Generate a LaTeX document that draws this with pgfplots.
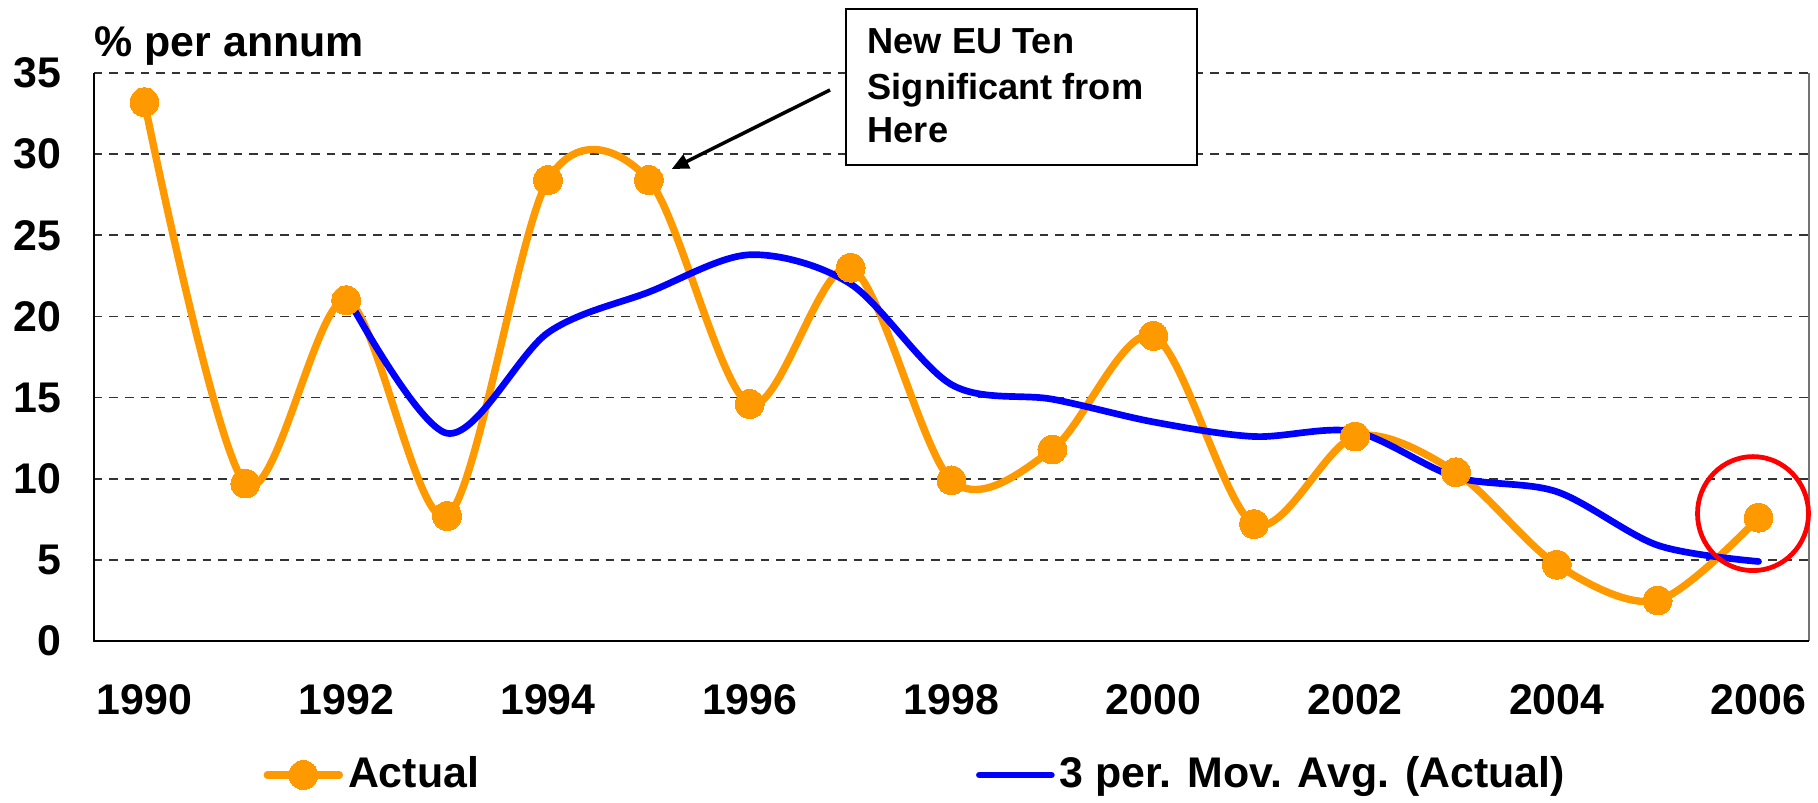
\documentclass[border=0pt]{standalone}
\usepackage{fontspec}
\setmainfont{Liberation Sans}
\usepackage{pgfplots}
\pgfplotsset{compat=1.18}
\usetikzlibrary{arrows.meta}
\definecolor{xlorange}{HTML}{FF9900}
\definecolor{xlblue}{HTML}{0000FF}
\definecolor{xlred}{HTML}{FF0000}
\pgfplotstableread{
year val
1990 33.2
1991 9.7
1992 21.0
1993 7.7
1994 28.4
1995 28.4
1996 14.6
1997 23.0
1998 9.9
1999 11.8
2000 18.8
2001 7.2
2002 12.6
2003 10.4
2004 4.7
2005 2.5
2006 7.6
}\actual
\pgfplotstableread{
year val
1992 21.3
1993 12.8
1994 19.0
1995 21.5
1996 23.8
1997 22.0
1998 15.8
1999 14.9
2000 13.5
2001 12.6
2002 12.9
2003 10.1
2004 9.2
2005 5.9
2006 4.9
}\movavg
\begin{document}
\begin{tikzpicture}
\path[use as bounding box] (-0.94cm,-1.61cm) rectangle (17.24cm,6.41cm);
\begin{axis}[
  at={(0cm,0cm)}, anchor=south west,
  scale only axis, width=17.15cm, height=5.68cm,
  xmin=1989.5, xmax=2006.5, ymin=0, ymax=35,
  xtick={1990,1992,...,2006},
  xticklabels={1990,1992,1994,1996,1998,2000,2002,2004,2006},
  ytick={0,5,...,35},
  yticklabels={0,5,10,15,20,25,30,35},
  major tick length=0pt,
  tick style={draw=none},
  axis line style={draw=none},
  ymajorgrids,
  grid style={black!80, line width=0.5pt, dash pattern=on 0.085cm off 0.07cm},
  tick label style={font=\bfseries\fontsize{12.2}{14}\selectfont, inner sep=0pt},
  xticklabel style={anchor=center, yshift=-0.59cm},
  yticklabel style={anchor=east, xshift=-0.32cm},
  clip=false,
  legend columns=2,
  legend style={draw=none, fill=none, at={(0.0985,-0.236)}, anchor=west,
    font=\bfseries\fontsize{12.2}{14}\selectfont, inner sep=0pt,
    nodes={inner sep=0pt},
    /tikz/every odd column/.append style={column sep=0.05cm},
    /tikz/every even column/.append style={column sep=4.97cm}},
  legend image code/.code={\draw[mark repeat=2,mark phase=2,#1] plot coordinates {(0cm,0cm) (0.36cm,0cm) (0.72cm,0cm)};},
]
\draw[black!55, line width=0.7pt] (rel axis cs:1,0) -- (rel axis cs:1,1);
\draw[black, line width=0.6pt] (rel axis cs:0,1) -- (rel axis cs:0,0) -- (rel axis cs:1,0);
\addplot[xlorange, line width=2.1pt, smooth, tension=0.52, line cap=round, line join=round,
  mark=*, mark size=4.1pt, mark options={solid, fill=xlorange, draw=xlorange, line width=0pt}]
  table[x=year, y=val] {\actual};
\addplot[xlblue, line width=1.9pt, smooth, tension=0.52, line cap=round, line join=round, no marks]
  table[x=year, y=val] {\movavg};
\legend{Actual, 3 per. Mov. Avg. (Actual)}
\end{axis}
\node[anchor=base west, inner sep=0pt, font=\bfseries\fontsize{12.2}{14}\selectfont] at (0cm,5.843cm) {\% per annum};
\draw[black, line width=0.6pt, fill=white] (7.52cm,4.76cm) rectangle (11.03cm,6.32cm);
\begin{scope}[every node/.style={anchor=base west, inner sep=0pt, font=\bfseries\fontsize{10.3}{12}\selectfont}]
\node at (7.73cm,5.877cm) {New EU Ten};
\node at (7.73cm,5.41cm) {Significant from};
\node at (7.73cm,4.983cm) {Here};
\end{scope}
\draw[-{Triangle[length=0.17cm,width=0.15cm]}, line width=1pt] (7.36cm,5.51cm) -- (5.777cm,4.72cm);
\draw[xlred, line width=1.35pt] (16.59cm,1.274cm) ellipse [x radius=0.555cm, y radius=0.57cm];
\end{tikzpicture}
\end{document}
